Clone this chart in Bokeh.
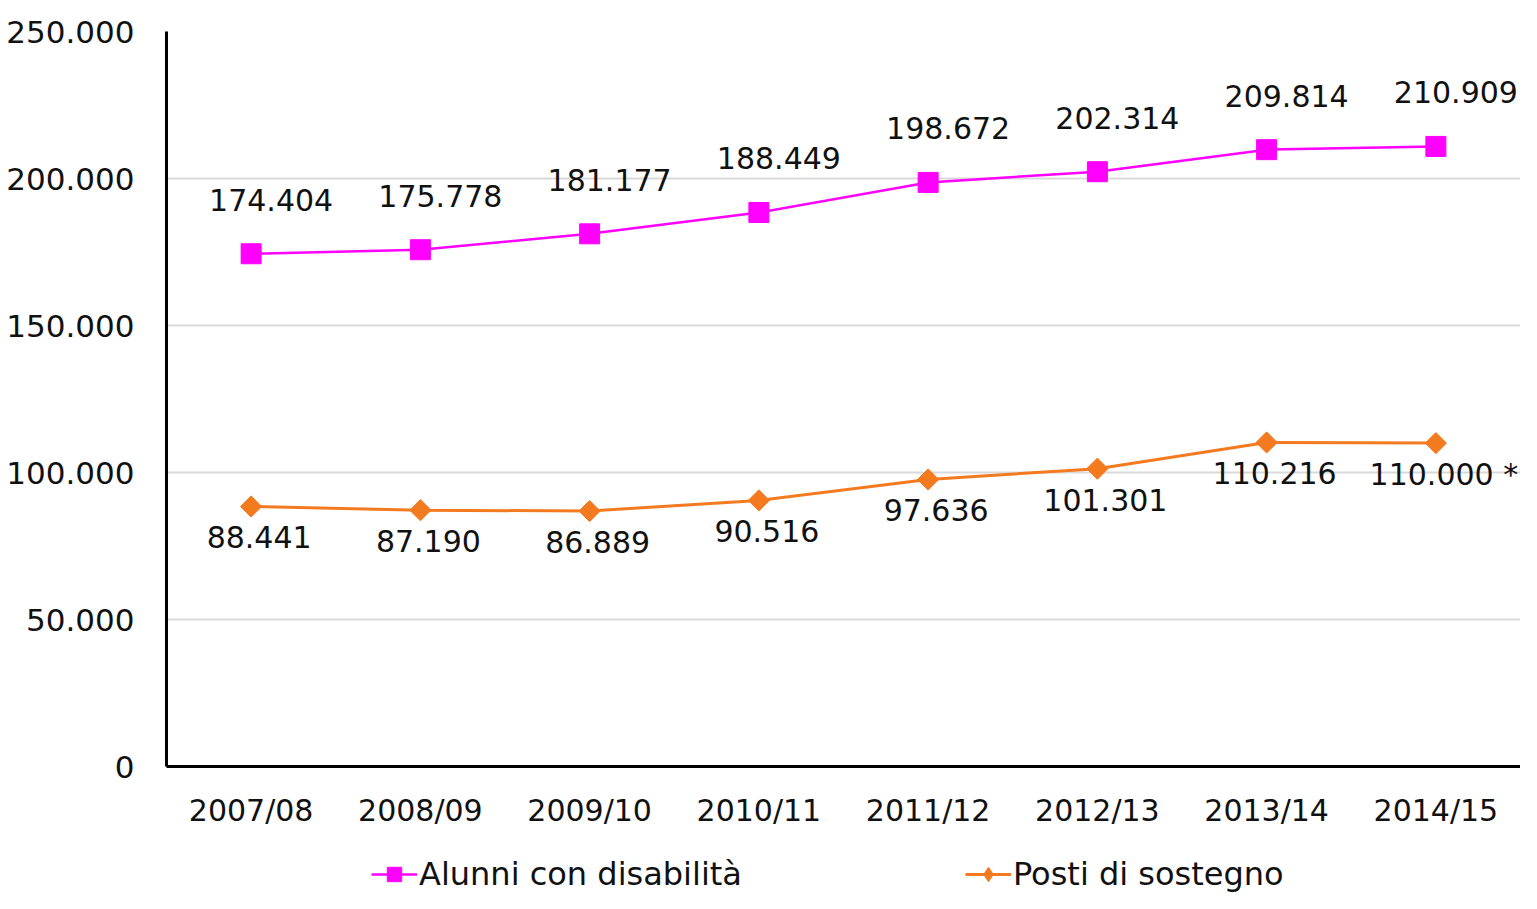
import math
from bokeh.plotting import figure
from bokeh.layouts import column
from bokeh.models import (ColumnDataSource, LabelSet, Legend, LegendItem, Range1d,
                          FactorRange, CustomJSTickFormatter, SingleIntervalTicker)
from bokeh.core.properties import value
from bokeh.embed import file_html
from bokeh.resources import INLINE

# ---- data ----
years = ["2007/08", "2008/09", "2009/10", "2010/11", "2011/12", "2012/13", "2013/14", "2014/15"]
alunni = [174404, 175778, 181177, 188449, 198672, 202314, 209814, 210909]
posti = [88441, 87190, 86889, 90516, 97636, 101301, 110216, 110000]
posti_notes = ["", "", "", "", "", "", "", " *"]
series_names = ["Alunni con disabilità", "Posti di sostegno"]


def it_fmt(v):
    return f"{v:,}".replace(",", ".")


FONT = "DejaVu Sans"
MAGENTA = "#FF00FF"
ORANGE = "#F47A20"
TEXT = "#111111"

src_a = ColumnDataSource(dict(x=years, y=alunni, lbl=[it_fmt(v) for v in alunni]))
src_p = ColumnDataSource(dict(x=years, y=posti,
                              lbl=[it_fmt(v) + n for v, n in zip(posti, posti_notes)]))


def draw_series(fig, for_legend=False):
    a_line = fig.line("x", "y", source=src_a, line_color=MAGENTA, line_width=2.5)
    a_mark = fig.scatter("x", "y", source=src_a, marker="square", size=20,
                         fill_color=MAGENTA, line_color=MAGENTA)
    p_line = fig.line("x", "y", source=src_p, line_color=ORANGE, line_width=3)
    if for_legend:
        p_mark = fig.scatter("x", "y", source=src_p, marker="diamond", size=22,
                             fill_color=ORANGE, line_color=ORANGE)
    else:
        p_mark = fig.scatter("x", "y", source=src_p, marker="square", angle=math.pi / 4, size=15,
                             fill_color=ORANGE, line_color=ORANGE)
    return a_line, a_mark, p_line, p_mark


p = figure(width=1520, height=830, output_backend="svg", toolbar_location=None,
           x_range=FactorRange(*years), y_range=Range1d(0, 250000),
           min_border_left=166, min_border_right=0, min_border_top=31, min_border_bottom=61)
p.outline_line_color = None
draw_series(p)

p.add_layout(LabelSet(x="x", y="y", text="lbl", source=src_a, x_offset=20, y_offset=54,
                      text_align="center", text_baseline="middle", text_font=value(FONT),
                      text_font_size="30px", text_color=TEXT))
p.add_layout(LabelSet(x="x", y="y", text="lbl", source=src_p, x_offset=8, y_offset=-31,
                      text_align="center", text_baseline="middle", text_font=value(FONT),
                      text_font_size="30px", text_color=TEXT))

# axes
for ax in (p.xaxis[0], p.yaxis[0]):
    ax.axis_line_color = "black"
    ax.axis_line_width = 3
    ax.major_tick_line_color = None
    ax.minor_tick_line_color = None
    ax.major_label_text_font = FONT
    ax.major_label_text_font_size = "30px"
    ax.major_label_text_color = TEXT
p.yaxis.major_label_text_font_size = "31px"
p.yaxis.ticker = SingleIntervalTicker(interval=50000)
p.yaxis.formatter = CustomJSTickFormatter(
    code="return Math.round(tick).toString().replace(/\\B(?=(\\d{3})+(?!\\d))/g, '.');")
p.yaxis.major_label_standoff = 26
p.xaxis.major_label_standoff = 20

p.xgrid.grid_line_color = None
p.ygrid.grid_line_color = "#D9D9D9"
p.ygrid.grid_line_width = 2

# ---- legend strip below the chart (series drawn out of its view, only the legend shows) ----
leg = figure(width=1520, height=63, output_backend="svg", toolbar_location=None,
             min_border_left=0, min_border_right=0, min_border_top=0, min_border_bottom=0,
             x_range=FactorRange(*years), y_range=Range1d(-2, -1))
leg.axis.visible = False
leg.grid.visible = False
leg.outline_line_color = None
r1, r2, r3, r4 = draw_series(leg, for_legend=True)
legend = Legend(items=[LegendItem(label=series_names[0], renderers=[r1, r2]),
                       LegendItem(label=series_names[1], renderers=[r3, r4])],
                orientation="horizontal", location=(205, 0), spacing=223,
                label_text_font=FONT, label_text_font_size="32px", label_text_color=TEXT,
                glyph_width=46, glyph_height=36, label_standoff=2, border_line_color=None,
                background_fill_alpha=0, padding=0, margin=0)
leg.add_layout(legend, "center")

layout = column(p, leg, spacing=0)
open("out.html", "w").write(file_html(layout, INLINE))
